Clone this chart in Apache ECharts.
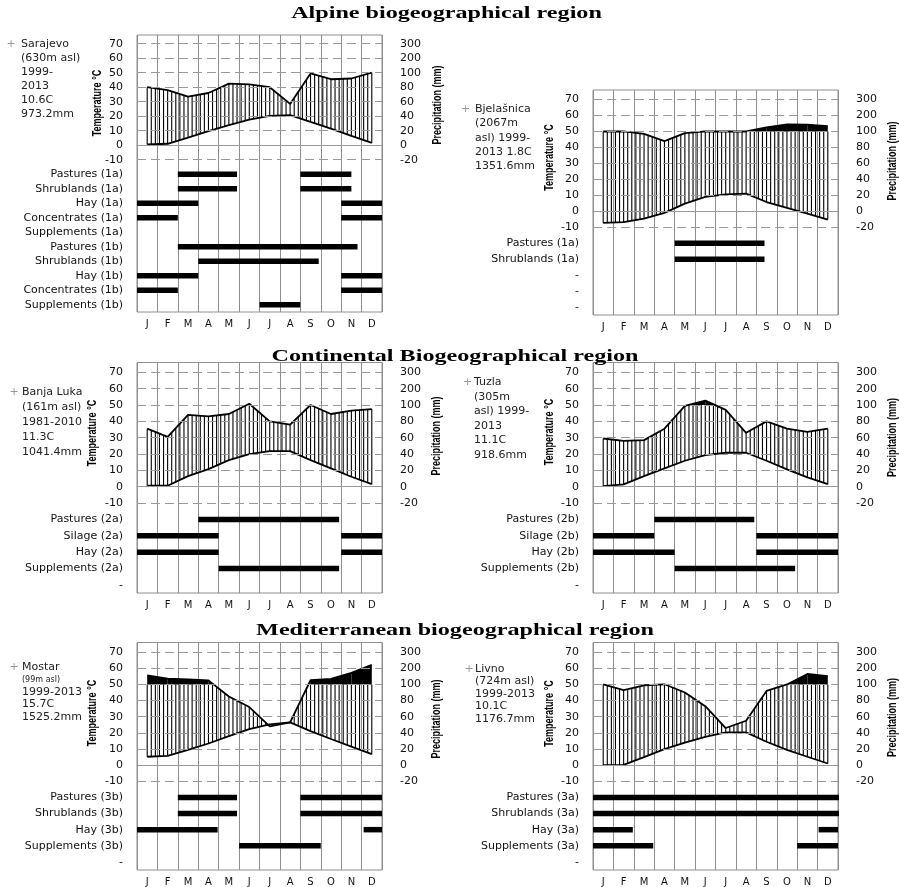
<!DOCTYPE html>
<html>
<head>
<meta charset="utf-8">
<title>Climate diagrams and feeding calendars</title>
<script src="https://cdn.jsdelivr.net/npm/echarts@6/dist/echarts.min.js"></script>
<style>
  html, body { margin: 0; padding: 0; background: #fff; }
  #chart { width: 899px; height: 887px; }
</style>
</head>
<body>
<div id="chart"></div>
<script>
// month axis
const months = ['J', 'F', 'M', 'A', 'M', 'J', 'J', 'A', 'S', 'O', 'N', 'D'];
const tempTicks = [-10, 0, 10, 20, 30, 40, 50, 60, 70];

// Sarajevo
const sarajevoInfo = ['Sarajevo', '(630m asl)', '1999-', '2013', '10.6C', '973.2mm'];
const sarajevoTemp = [0.5, 1.0, 5.3, 9.7, 13.8, 17.7, 20.2, 20.7, 16.1, 11.5, 6.4, 1.6];
const sarajevoPrec = [80, 76, 67, 72, 85, 84, 80, 57, 99, 91, 92, 100];
const sarajevoRows = ['Pastures (1a)', 'Shrublands (1a)', 'Hay (1a)', 'Concentrates (1a)', 'Supplements (1a)',
  'Pastures (1b)', 'Shrublands (1b)', 'Hay (1b)', 'Concentrates (1b)', 'Supplements (1b)'];
const sarajevoBars = [[0, 2, 4.9], [0, 8, 10.5], [1, 2, 4.9], [1, 8, 10.5], [2, 0, 3], [2, 10, 12],
  [3, 0, 2], [3, 10, 12], [5, 2, 10.8], [6, 3, 8.9], [7, 0, 3], [7, 10, 12], [8, 0, 2], [8, 10, 12], [9, 6, 8]];

// Bjelasnica
const bjelasnicaInfo = ['Bjelašnica', '(2067m', 'asl) 1999-', '2013 1.8C', '1351.6mm'];
const bjelasnicaTemp = [-7.3, -6.8, -4.6, -1.0, 4.8, 9.0, 10.6, 11.1, 5.8, 2.1, -1.5, -5.2];
const bjelasnicaPrec = [100, 101, 97, 88, 98, 101, 100, 100, 126, 145, 143, 134];
const bjelasnicaRows = ['Pastures (1a)', 'Shrublands (1a)', '-', '-', '-'];
const bjelasnicaBars = [[0, 4, 8.4], [1, 4, 8.4]];

// Banja Luka
const banjaLukaInfo = ['Banja Luka', '(161m asl)', '1981-2010', '11.3C', '1041.4mm'];
const banjaLukaTemp = [0.6, 0.6, 6.5, 10.8, 16.3, 20.0, 21.8, 21.8, 16.3, 11.2, 6.1, 1.6];
const banjaLukaPrec = [71, 61, 88, 86, 89, 108, 80, 76, 100, 89, 93, 95];
const banjaLukaRows = ['Pastures (2a)', 'Silage (2a)', 'Hay (2a)', 'Supplements (2a)', '-'];
const banjaLukaBars = [[0, 3, 9.9], [1, 0, 4], [1, 10, 12], [2, 0, 4], [2, 10, 12], [3, 4, 9.9]];

// Tuzla
const tuzlaInfo = ['Tuzla', '(305m', 'asl) 1999-', '2013', '11.1C', '918.6mm'];
const tuzlaTemp = [0.4, 1.4, 6.5, 11.2, 15.9, 19.4, 20.8, 20.8, 15.9, 10.6, 5.7, 1.6];
const tuzlaPrec = [59, 56, 57, 71, 99, 127, 94, 66, 80, 71, 67, 71];
const tuzlaRows = ['Pastures (2b)', 'Silage (2b)', 'Hay (2b)', 'Supplements (2b)', '-'];
const tuzlaBars = [[0, 3, 7.9], [1, 0, 3], [1, 8, 12], [2, 0, 4], [2, 8, 12], [3, 4, 9.9]];

// Mostar
const mostarInfo = ['Mostar', '(99m asl)', '1999-2013', '15.7C', '1525.2mm'];
const mostarTemp = [5.2, 5.7, 9.4, 13.4, 18.0, 22.3, 25.2, 26.5, 21.1, 16.2, 11.5, 6.8];
const mostarPrec = [156, 136, 131, 125, 85, 72, 48, 53, 126, 134, 172, 222];
const mostarRows = ['Pastures (3b)', 'Shrublands (3b)', 'Hay (3b)', 'Supplements (3b)', '-'];
const mostarBars = [[0, 2, 4.9], [0, 8, 12], [1, 2, 4.9], [1, 8, 12], [2, 0, 3.95], [2, 11.1, 12], [3, 5, 9]];

// Livno
const livnoInfo = ['Livno', '(724m asl)', '1999-2013', '10.1C', '1176.7mm'];
const livnoTemp = [0, 0.2, 5.0, 9.9, 14.0, 17.5, 20.3, 20.3, 14.5, 9.5, 5.2, 1.0];
const livnoPrec = [101, 93, 99, 101, 90, 73, 46, 55, 92, 100, 165, 151];
const livnoRows = ['Pastures (3a)', 'Shrublands (3a)', 'Hay (3a)', 'Supplements (3a)', '-'];
const livnoBars = [[0, 0, 12.05], [1, 0, 12.05], [2, 0, 1.95], [2, 11.05, 12], [3, 0, 2.95], [3, 10, 12]];

const stations = [
  { info: sarajevoInfo, temp: sarajevoTemp, prec: sarajevoPrec, rows: sarajevoRows, bars: sarajevoBars },
  { info: bjelasnicaInfo, temp: bjelasnicaTemp, prec: bjelasnicaPrec, rows: bjelasnicaRows, bars: bjelasnicaBars },
  { info: banjaLukaInfo, temp: banjaLukaTemp, prec: banjaLukaPrec, rows: banjaLukaRows, bars: banjaLukaBars },
  { info: tuzlaInfo, temp: tuzlaTemp, prec: tuzlaPrec, rows: tuzlaRows, bars: tuzlaBars },
  { info: mostarInfo, temp: mostarTemp, prec: mostarPrec, rows: mostarRows, bars: mostarBars },
  { info: livnoInfo, temp: livnoTemp, prec: livnoPrec, rows: livnoRows, bars: livnoBars }
];

// where each panel sits on the page
const panelLayout = [
  { left: 137, top: 35, height: 277, min: -115, tempTitle: [98, 103], precTitle: [438, 105], info: [21, 44.3, 14], plus: 11 },
  { left: 593, top: 90, height: 225, min: -65, tempTitle: [550, 157.5], precTitle: [893, 161], info: [475, 109.3, 14.2], plus: 465.5 },
  { left: 137, top: 362.5, height: 230.5, min: -65, tempTitle: [93, 433], precTitle: [437, 436], info: [22, 391.7, 15], plus: 14 },
  { left: 593, top: 362.5, height: 230.5, min: -65, tempTitle: [550, 432], precTitle: [893, 437.5], info: [474, 382.3, 14.5], plus: 467.5 },
  { left: 137, top: 642.5, height: 229, min: -65, tempTitle: [93, 713], precTitle: [437, 719], info: [22, 667.3, 12.4], plus: 14 },
  { left: 593, top: 642.5, height: 229, min: -65, tempTitle: [550, 713.5], precTitle: [893, 717.5], info: [475, 669, 12.5], plus: 469 }
];

const regionTitles = [
  { text: 'Alpine biogeographical region', x: 446.5, y: 14 },
  { text: 'Continental Biogeographical region', x: 455, y: 357 },
  { text: 'Mediterranean biogeographical region', x: 455, y: 630.5 }
];

const labelFont = 'DejaVu Sans';
const gridGrey = '#8e8e8e';

// Walter-Lieth scale: 20 mm = 10 C up to 100 mm, compressed 1:10 above
function toChart(p) { return p <= 100 ? p / 2 : 50 + (p - 100) / 10; }
function precLabel(v) { return v <= 50 ? v * 2 : 100 + (v - 50) * 10; }

// hatching between temperature and precipitation, black above 100 mm
function climateRender(temp, prec) {
  return function (params, api) {
    const i = params.dataIndex;
    const x0 = i + 0.5, x1 = i + 1.5;
    const t0 = temp[i], t1 = temp[i + 1];
    const p0 = toChart(prec[i]), p1 = toChart(prec[i + 1]);
    const cap = 50;
    const children = [];
    if (p0 > cap || p1 > cap) {
      let pts;
      if (p0 > cap && p1 > cap) pts = [[x0, cap], [x0, p0], [x1, p1], [x1, cap]];
      else if (p0 > cap) pts = [[x0, cap], [x0, p0], [x0 + (p0 - cap) / (p0 - p1), cap]];
      else pts = [[x0 + (cap - p0) / (p1 - p0), cap], [x1, p1], [x1, cap]];
      children.push({ type: 'polygon', shape: { points: pts.map(function (p) { return api.coord(p); }) }, style: { fill: '#000' } });
    }
    const n = 5;
    const last = i === temp.length - 2 ? n : n - 1;
    for (let k = 0; k <= last; k++) {
      const f = k / n;
      const t = t0 + (t1 - t0) * f;
      const p = Math.min(p0 + (p1 - p0) * f, cap);
      if (p <= t) continue;
      const a = api.coord([x0 + f, t]), b = api.coord([x0 + f, p]);
      children.push({ type: 'line', shape: { x1: a[0], y1: a[1], x2: b[0], y2: b[1] }, style: { stroke: '#000', lineWidth: 1.1 } });
    }
    return { type: 'group', children: children };
  };
}

function ganttRender(params, api) {
  const y = -20 - 10 * api.value(0);
  const a = api.coord([api.value(1), y]);
  const b = api.coord([api.value(2), y]);
  return { type: 'rect', shape: { x: a[0], y: a[1] - 2.75, width: b[0] - a[0], height: 5.5 }, style: { fill: '#000' } };
}

const grid = [], xAxis = [], yAxis = [], series = [], graphic = [];

stations.forEach(function (st, i) {
  const L = panelLayout[i];
  grid.push({ left: L.left, top: L.top, width: 245, height: L.height, show: true, borderColor: gridGrey, borderWidth: 1 });
  xAxis.push({
    type: 'value', gridIndex: i, position: 'top', min: 0, max: 12, interval: 1,
    axisLine: { show: false }, axisTick: { show: false }, axisLabel: { show: false },
    splitLine: { show: true, lineStyle: { color: gridGrey, width: 1 } }
  });
  xAxis.push({
    type: 'category', gridIndex: i, position: 'bottom', data: months,
    axisLine: { lineStyle: { color: gridGrey } },
    axisTick: { alignWithLabel: true, length: 4, lineStyle: { color: '#777' } },
    axisLabel: { fontFamily: labelFont, fontSize: 10, color: '#111', margin: 7 },
    splitLine: { show: false }
  });
  yAxis.push({
    type: 'value', gridIndex: i, min: L.min, max: 76, interval: 5,
    axisLine: { show: false }, axisTick: { show: false }, splitLine: { show: false },
    axisLabel: {
      fontFamily: labelFont, fontSize: 11, color: '#111', margin: 14,
      formatter: function (v) {
        if (v % 10 !== 0) return '';
        if (v >= -10) return v > 70 ? '' : String(v);
        return st.rows[(-v - 20) / 10] || '';
      }
    }
  });
  yAxis.push({
    type: 'value', gridIndex: i, position: 'right', min: L.min, max: 76, interval: 5,
    axisLine: { show: false }, axisTick: { show: false }, splitLine: { show: false },
    axisLabel: {
      fontFamily: labelFont, fontSize: 11, color: '#111', margin: 18,
      formatter: function (v) {
        if (v % 10 !== 0 || v < -10 || v > 70) return '';
        return String(precLabel(v));
      }
    }
  });

  series.push({
    type: 'line', xAxisIndex: 2 * i, yAxisIndex: 2 * i, z: 1, silent: true,
    data: [], markLine: {
      silent: true, symbol: 'none', label: { show: false }, animation: false,
      data: tempTicks.map(function (v) {
        return { yAxis: v, lineStyle: { color: '#999', width: 1, type: v === 0 ? 'solid' : [9, 5] } };
      })
    }
  });
  series.push({
    type: 'custom', xAxisIndex: 2 * i, yAxisIndex: 2 * i, z: 3, silent: true,
    renderItem: climateRender(st.temp, st.prec),
    data: st.temp.slice(0, 11).map(function (t, k) { return [k + 0.5, t]; })
  });
  series.push({
    type: 'line', xAxisIndex: 2 * i, yAxisIndex: 2 * i, z: 4, silent: true, symbol: 'none',
    lineStyle: { color: '#000', width: 1.8 },
    data: st.temp.map(function (t, k) { return [k + 0.5, t]; })
  });
  series.push({
    type: 'line', xAxisIndex: 2 * i, yAxisIndex: 2 * i, z: 4, silent: true, symbol: 'none',
    lineStyle: { color: '#000', width: 1.8 },
    data: st.prec.map(function (p, k) { return [k + 0.5, toChart(p)]; })
  });
  series.push({
    type: 'custom', xAxisIndex: 2 * i, yAxisIndex: 2 * i, z: 4, silent: true,
    renderItem: ganttRender, data: st.bars
  });

  // axis titles (glyphs widened like the stretched original)
  graphic.push({
    type: 'text', x: L.tempTitle[0], y: L.tempTitle[1], rotation: Math.PI / 2, scaleY: 1.35,
    style: { text: 'Temperature °C', font: 'bold 9px "Liberation Sans"', fill: '#000', align: 'center', verticalAlign: 'middle' }
  });
  graphic.push({
    type: 'text', x: L.precTitle[0], y: L.precTitle[1], rotation: Math.PI / 2, scaleY: 1.35,
    style: { text: 'Precipitation (mm)', font: 'bold 9px "Liberation Sans"', fill: '#000', align: 'center', verticalAlign: 'middle' }
  });
  // station description
  graphic.push({
    type: 'text', x: L.plus, y: L.info[1],
    style: { text: '+', font: '11px "DejaVu Sans"', fill: '#999', align: 'center', verticalAlign: 'middle' }
  });
  st.info.forEach(function (line, k) {
    const small = line === '(99m asl)';
    graphic.push({
      type: 'text', x: L.info[0], y: L.info[1] + k * L.info[2],
      style: { text: line, font: (small ? 8 : 11) + 'px "DejaVu Sans"', fill: '#222', align: 'left', verticalAlign: 'middle' }
    });
  });
});

regionTitles.forEach(function (t) {
  graphic.push({
    type: 'text', x: t.x, y: t.y, scaleX: 1.42,
    style: { text: t.text, font: 'bold 17px "Liberation Serif"', fill: '#000', align: 'center', verticalAlign: 'middle' }
  });
});

const chart = echarts.init(document.getElementById('chart'), null, { renderer: 'canvas' });
chart.setOption({
  animation: false,
  backgroundColor: '#fff',
  grid: grid,
  xAxis: xAxis,
  yAxis: yAxis,
  series: series,
  graphic: graphic
});
</script>
</body>
</html>
